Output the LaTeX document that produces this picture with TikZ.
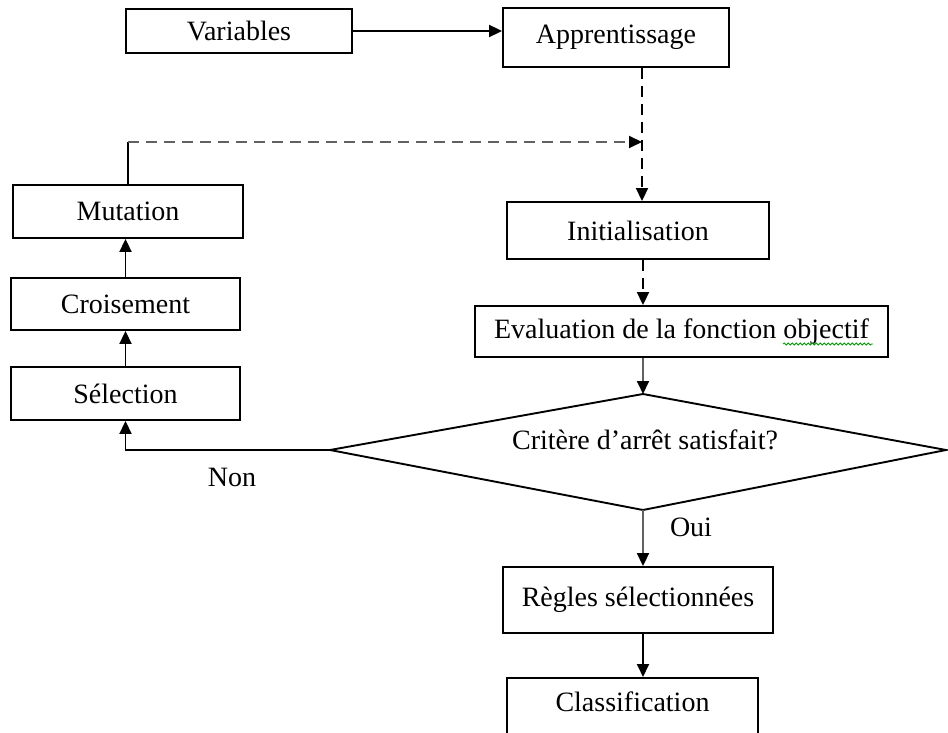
\documentclass[tikz,border=0pt]{standalone}
\usepackage{fontspec}
\setmainfont{Liberation Serif}
\usetikzlibrary{arrows.meta,decorations.pathmorphing}
\begin{document}
\begin{tikzpicture}[x=1pt,y=-1pt,
  txt/.style={font=\fontsize{28}{32}\selectfont, inner sep=0pt},
  box/.style={txt, draw=black, line width=1.9pt, rectangle},
  arr/.style={line width=1.9pt, -{Triangle[length=13pt,width=12pt,color=black]}},
  dashline/.style={dash pattern=on 11pt off 7pt},
  greyline/.style={draw=black!62}
]
\clip (0,0) rectangle (948,733);
\fill[white] (0,0) rectangle (948,733);

% top row
\node[box, minimum width=226, minimum height=44] (var) at (239,31) {Variables};
\node[box, minimum width=226, minimum height=59] (app) at (616,37.5) {Apprentissage};

% main column
\node[box, minimum width=262, minimum height=57] (init) at (638,230.5) {Initialisation};
\node[box, minimum width=413, minimum height=51] (eval) at (681.5,331.5) {Evaluation de la fonction objectif};

% decision diamond
\coordinate (dt) at (643,394);
\coordinate (dr) at (946,450);
\coordinate (db) at (643,510);
\coordinate (dl) at (330,450);
\draw[line width=1.9pt] (dt) -- (dr) -- (db) -- (dl) -- cycle;
\node[txt] (crit) at (645,440) {Critère d’arrêt satisfait?};

\node[box, minimum width=270, minimum height=66] (regles) at (638,600) {Règles sélectionnées};
\node[box, minimum width=251, anchor=north, text height=34pt, text depth=40pt] (classif) at (632.5,677) {Classification};

% genetic operators
\node[box, minimum width=230, minimum height=53] (mut) at (128,211.5) {Mutation};
\node[box, minimum width=229, minimum height=52] (crois) at (125.5,304) {Croisement};
\node[box, minimum width=229, minimum height=53] (sel) at (125.5,393.5) {Sélection};

% spell-check underline
\draw[green!60!black, line width=0.8pt, decorate,
      decoration={snake, amplitude=1.1pt, segment length=4pt}] (783,344) -- (873,344);

% connectors
\coordinate (join) at (642,142);
\draw[arr] (var.east) -- (var.east -| app.west);
\draw[arr, dashline] (app.south -| join) -- (init.north -| join);
\draw[line width=1.9pt] (mut.north) -- (mut.north |- join);
\draw[arr, dashline, greyline] (mut.north |- join) -- (join);
\draw[arr, dashline] (init.south -| dt) -- (eval.north -| dt);
\draw[arr, greyline] (eval.south -| dt) -- (dt);
\draw[arr] (dl) -| (sel.south);
\draw[arr] (sel.north) -- (sel.north |- crois.south);
\draw[arr] (crois.north) -- (crois.north |- mut.south);
\draw[arr, greyline] (db) -- (db |- regles.north);
\draw[arr] (regles.south -| db) -- (classif.north -| db);

% branch labels
\node[txt] (non) at (232,477) {Non};
\node[txt] (oui) at (691,527) {Oui};
\end{tikzpicture}
\end{document}
